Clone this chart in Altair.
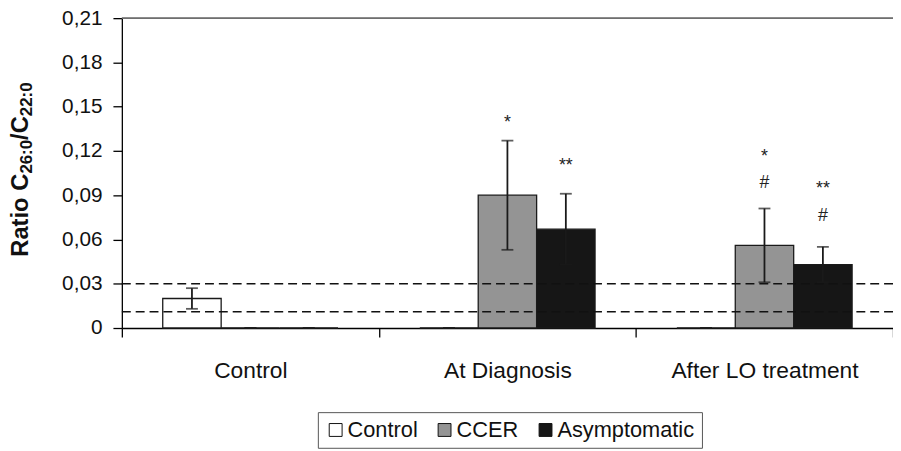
import altair as alt
import pandas as pd

groups = ["Control", "At Diagnosis", "After LO treatment"]
series = ["Control", "CCER", "Asymptomatic"]
colors = ["#ffffff", "#949494", "#161616"]

# mean values per group (Control, At Diagnosis, After LO treatment)
control_mean = [0.020, 0.0, 0.0]
ccer_mean = [0.0, 0.090, 0.056]
asym_mean = [0.0, 0.067, 0.043]
control_sd = [0.007, 0.0, 0.0]
ccer_sd = [0.0, 0.037, 0.025]
asym_sd = [0.0, 0.024, 0.012]

ref_lines = [0.011, 0.030]

# significance annotations
ann_group = ["At Diagnosis", "At Diagnosis", "After LO treatment", "After LO treatment",
             "After LO treatment", "After LO treatment"]
ann_series = ["CCER", "Asymptomatic", "CCER", "CCER", "Asymptomatic", "Asymptomatic"]
ann_text = ["*", "**", "#", "*", "#", "**"]
ann_y = [0.1356, 0.1061, 0.0947, 0.1128, 0.0726, 0.0910]

y_ticks = [0, 0.03, 0.06, 0.09, 0.12, 0.15, 0.18, 0.21]

# y-axis title pieces (normal / subscript)
title_parts = ["Ratio C", "26:0", "/C", "22:0"]
title_is_sub = [False, True, False, True]

rows = []
for s, means, sds in zip(series, [control_mean, ccer_mean, asym_mean], [control_sd, ccer_sd, asym_sd]):
    for g, m, sd in zip(groups, means, sds):
        rows.append({"group": g, "series": s, "mean": m, "lo": m - sd, "hi": m + sd})
df = pd.DataFrame(rows)
ann = pd.DataFrame({"group": ann_group, "series": ann_series, "text": ann_text, "y": ann_y})
refs = pd.DataFrame({"v": ref_lines})

FONT = "Liberation Sans"
W, H = 779, 313

xenc = alt.X("group:N", scale=alt.Scale(domain=groups, paddingInner=0, paddingOuter=0),
             axis=alt.Axis(title=None, labelAngle=0, tickBand="extent", tickSize=9,
                           labelPadding=23, labelFontSize=23, labelFont=FONT, labelLimit=0,
                           labelColor="#111", domainColor="#000", tickColor="#000",
                           domainWidth=1.3, tickWidth=1.3))
xoff = alt.XOffset("series:N", scale=alt.Scale(domain=series, paddingInner=0, paddingOuter=0.7))

yscale = alt.Scale(domain=[0, 0.21], nice=False)

bars = alt.Chart(df).mark_bar(stroke="#1a1a1a", strokeWidth=1.3).encode(
    x=xenc,
    xOffset=xoff,
    y=alt.Y("mean:Q", scale=yscale,
            axis=alt.Axis(values=y_ticks,
                          labelExpr="datum.value == 0 ? '0' : replace(format(datum.value, '.2f'), '.', ',')",
                          tickSize=9, labelPadding=11, labelFontSize=21, labelFont=FONT,
                          labelColor="#111", domainColor="#000", tickColor="#000",
                          domainWidth=1.3, tickWidth=1.3, grid=False, title=None)),
    color=alt.Color("series:N", scale=alt.Scale(domain=series, range=colors),
                    legend=alt.Legend(title=None, orient="none", legendX=198, legendY=398,
                                      direction="horizontal", symbolType="square",
                                      symbolSize=169, symbolStrokeColor="#111",
                                      symbolStrokeWidth=1, labelFontSize=22, labelFont=FONT,
                                      labelColor="#111", strokeColor="#555", padding=7,
                                      columnPadding=16, labelOffset=1)),
)

top_line = alt.Chart(refs).mark_rule(color="#666", strokeWidth=1.3).encode(
    y=alt.datum(0.21)
)

dashed = alt.Chart(refs).mark_rule(color="#111", strokeWidth=1.4, strokeDash=[9, 5]).encode(
    y=alt.Y("v:Q", scale=yscale)
)

err_rule = alt.Chart(df).mark_rule(color="#1a1a1a", strokeWidth=1.8).encode(
    x=xenc, xOffset=xoff, y=alt.Y("lo:Q", scale=yscale), y2="hi:Q"
)
cap_hi = alt.Chart(df).mark_tick(color="#1a1a1a", thickness=1.8, size=12).encode(
    x=xenc, xOffset=xoff, y=alt.Y("hi:Q", scale=yscale)
)
cap_lo = alt.Chart(df).mark_tick(color="#1a1a1a", thickness=1.8, size=12).encode(
    x=xenc, xOffset=xoff, y=alt.Y("lo:Q", scale=yscale)
)

labels = alt.Chart(ann).mark_text(font=FONT, fontSize=18, color="#222", baseline="alphabetic").encode(
    x=xenc, xOffset=xoff, y=alt.Y("y:Q", scale=yscale), text="text:N"
)

# rotated y-axis title built from normal + subscript pieces
BOLD_W = {"R": .722, "a": .556, "t": .333, "i": .278, "o": .611, " ": .278, "C": .722,
          "2": .556, "6": .556, ":": .333, "0": .556, "/": .278}
MAIN_FS, SUB_FS = 24, 17
title_layers = []
total = sum(sum(BOLD_W[c] for c in p) * (SUB_FS if s else MAIN_FS)
            for p, s in zip(title_parts, title_is_sub))
pos = 153 + total / 2  # vertical centre of the title, plot coordinates
for p, s in zip(title_parts, title_is_sub):
    fs = SUB_FS if s else MAIN_FS
    title_layers.append(
        alt.Chart(pd.DataFrame({"t": [p]})).mark_text(
            font=FONT, fontSize=fs, fontWeight="bold", color="#111", angle=270,
            align="left", baseline="alphabetic"
        ).encode(x=alt.value(-91 if s else -95), y=alt.value(pos), text="t:N")
    )
    pos -= sum(BOLD_W[c] for c in p) * fs

chart = alt.layer(bars, top_line, dashed, err_rule, cap_hi, cap_lo, labels, *title_layers).properties(
    width=W, height=H,
    autosize=alt.AutoSizeParams(type="none"),
    padding={"left": 115, "top": 8, "right": 0, "bottom": 125},
).configure_view(strokeWidth=0)

chart.save("out.html", embed_options={"renderer": "svg", "actions": False})
